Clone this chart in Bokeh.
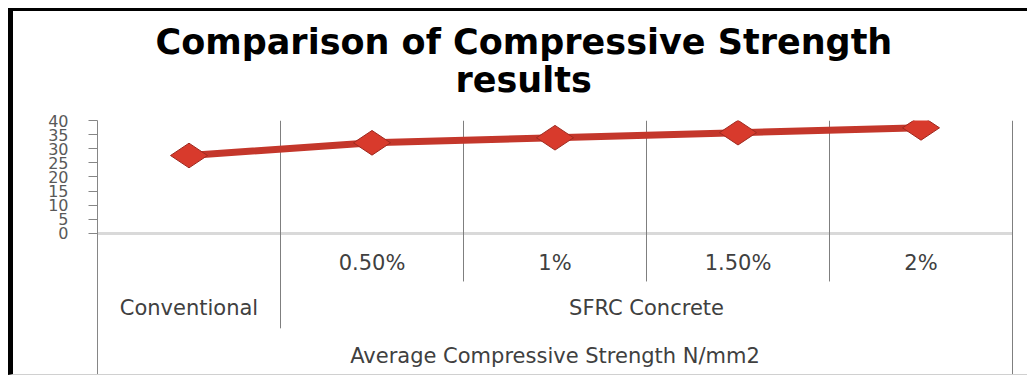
import math
from bokeh.plotting import figure
from bokeh.models import Range1d, FixedTicker, ColumnDataSource, Title
from bokeh.embed import file_html
from bokeh.resources import INLINE
from bokeh.core.properties import value

# ---- data ----
title_lines = ["Comparison of Compressive Strength", "results"]
groups = ["Conventional", "SFRC Concrete"]
group_spans = [1, 4]                      # number of categories in each group
categories = ["", "0.50%", "1%", "1.50%", "2%"]
strength = [27.6, 32.1, 33.9, 35.7, 37.4]  # N/mm2
y_ticks = [0, 5, 10, 15, 20, 25, 30, 35, 40]
axis_title = "Average Compressive Strength N/mm2"

# ---- layout constants (value units / category units) ----
Y_TOP = 40
Y_BOTTOM = -50.3          # room under the zero line for the category label rows
ROW_CAT = -10.3           # first label row (fibre dosage)
ROW_GROUP = -26.5         # second label row (group)
ROW_TITLE = -43.5         # axis title row
CAT_LINE_END = -17.0      # tick lines between dosages
GROUP_LINE_END = -33.6    # tick line between groups

n = len(categories)
centers = [i + 0.5 for i in range(n)]

p = figure(width=1019, height=367, output_backend="svg", toolbar_location=None,
           title=None,
           x_range=Range1d(0, n * 920 / 915), y_range=Range1d(Y_BOTTOM, Y_TOP),
           x_axis_type=None, min_border_left=84, min_border_right=15,
           min_border_top=109, min_border_bottom=3)
p.styles = {"margin-left": "8px", "margin-top": "8px",
            "border-left": "5px solid black", "border-top": "3px solid black",
            "border-bottom": "1px solid #d0d0d0"}
p.outline_line_color = None
p.xgrid.visible = False
p.ygrid.visible = False
p.background_fill_color = "white"
p.border_fill_color = "white"

# chart title: two lines stacked above the plot, the lower line is added first;
# the negative standoff pulls the first line down towards the second one
title_offsets = [58, 358]       # left offset of each line from the plot frame
title_standoffs = [-50, 42]
for line, off, so in reversed(list(zip(title_lines, title_offsets, title_standoffs))):
    p.add_layout(Title(text=line, align="left", offset=off, standoff=so,
                       text_line_height=0.75,
                       text_font="DejaVu Sans", text_font_style="bold",
                       text_font_size="35px", text_color="black"), "above")

ax = p.yaxis[0]
ax.ticker = FixedTicker(ticks=y_ticks)
ax.axis_line_color = "#868686"
ax.major_tick_line_color = "#868686"
ax.major_tick_out = 9
ax.major_tick_in = 0
ax.minor_tick_line_color = None
ax.major_label_standoff = 20
ax.major_label_text_font = "DejaVu Sans"
ax.major_label_text_font_size = "16px"
ax.major_label_text_color = "#595959"

# zero line
p.segment(x0=[0], y0=[0], x1=[n], y1=[0], line_color="#d9d9d9", line_width=3)

# category boundary lines (vertical gridlines continuing into the label area)
edges = [0]
for s in group_spans:
    edges.append(edges[-1] + s)
bounds_x, bounds_end = [], []
for i in range(1, n + 1):
    bounds_x.append(i)
    if i == n:
        bounds_end.append(Y_BOTTOM)
    elif i in edges:
        bounds_end.append(GROUP_LINE_END)
    else:
        bounds_end.append(CAT_LINE_END)
p.segment(x0=bounds_x, y0=[Y_TOP] * len(bounds_x), x1=bounds_x, y1=bounds_end,
          line_color="#7f7f7f", line_width=1)

# label rows
label_font = value("DejaVu Sans")
label_style = dict(text_align="center", text_baseline="middle", text_font=label_font,
                   text_font_size="21px", text_color="#404040")
p.text(x=centers, y=[ROW_CAT] * n, text=categories, **label_style)
group_centers = [(edges[k] + edges[k + 1]) / 2 for k in range(len(groups))]
p.text(x=group_centers, y=[ROW_GROUP] * len(groups), text=groups, **label_style)
p.text(x=[n / 2], y=[ROW_TITLE], text=[axis_title], **label_style)

# series
src = ColumnDataSource(dict(x=centers, y=strength))
p.line("x", "y", source=src, line_color="#c4372b", line_width=7)
p.scatter("x", "y", source=src, marker="diamond", size=37, angle=math.pi / 2,
          fill_color="#d83a2c", line_color="#9e2a20", line_width=1)

open("out.html", "w").write(file_html(p, INLINE))
